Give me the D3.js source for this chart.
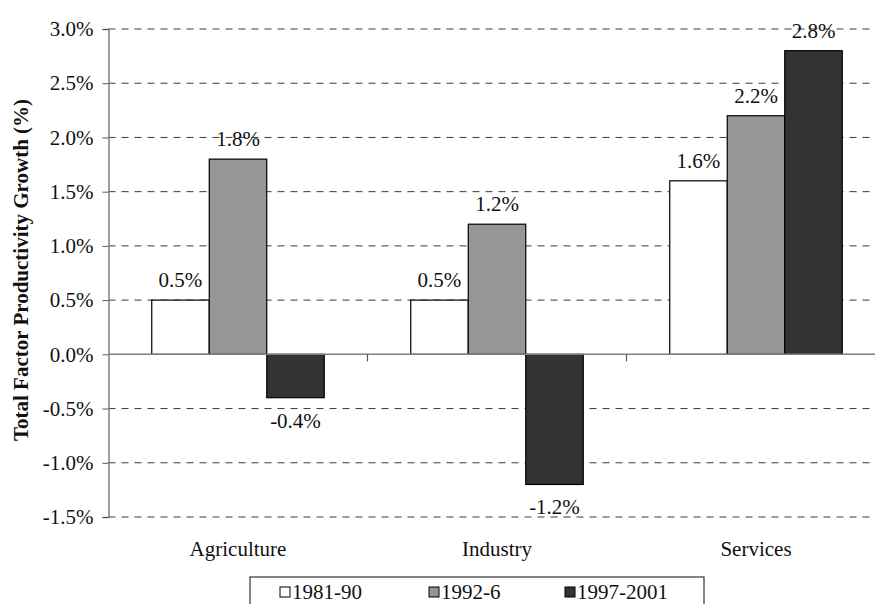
<!DOCTYPE html>
<html>
<head>
<meta charset="utf-8">
<script src="https://cdn.jsdelivr.net/npm/d3@7"></script>
<style>
  html, body { margin: 0; padding: 0; background: #fff; }
  svg { display: block; }
  svg text { font-family: "Liberation Serif", "Times New Roman", "DejaVu Serif", serif; }
</style>
</head>
<body>
<svg id="chart" width="875" height="604"></svg>
<script>
const categories = ["Agriculture", "Industry", "Services"];
const seriesNames = ["1981-90", "1992-6", "1997-2001"];
const values1981 = [0.5, 0.5, 1.6];
const values1992 = [1.8, 1.2, 2.2];
const values1997 = [-0.4, -1.2, 2.8];
const yTicks = [-1.5, -1.0, -0.5, 0.0, 0.5, 1.0, 1.5, 2.0, 2.5, 3.0];
const colors = ["#ffffff", "#969696", "#333333"];

(function () {
const FONT = "Liberation Serif, Times New Roman, serif";
const FS = 21;
const seriesValues = [values1981, values1992, values1997];
const data = categories.map((c, i) => ({
  category: c,
  vals: seriesNames.map((s, j) => ({ series: s, idx: j, value: seriesValues[j][i] }))
}));

const svg = d3.select("#chart");
const pLeft = 108.5, pRight = 885.5, pTop = 29, pBottom = 517;

const x = d3.scaleBand().domain(categories).range([pLeft, pRight]).paddingInner(0).paddingOuter(0);
const y = d3.scaleLinear().domain([-1.5, 3.0]).range([pBottom, pTop]);
const inner = d3.scaleBand().domain(seriesNames)
  .range([0, x.bandwidth()]).paddingOuter(0.752).paddingInner(0);

const fmt = v => v.toFixed(1) + "%";

// Gridlines (dashed)
svg.append("g").selectAll("line").data(yTicks.filter(t => t !== 0)).join("line")
  .attr("x1", pLeft).attr("x2", pRight)
  .attr("y1", d => y(d)).attr("y2", d => y(d))
  .attr("stroke", "#3a3a3a").attr("stroke-width", 1)
  .attr("stroke-dasharray", "7,6");

// Y axis
const yAxis = svg.append("g").attr("transform", `translate(${pLeft},0)`)
  .call(d3.axisLeft(y).tickValues(yTicks).tickFormat(fmt).tickSize(6).tickPadding(9));
yAxis.attr("font-family", FONT).attr("font-size", FS);
yAxis.select(".domain").attr("stroke", "#808080").attr("stroke-width", 1.5);
yAxis.selectAll(".tick line").attr("stroke", "#555").attr("stroke-width", 1);
yAxis.selectAll(".tick text").attr("fill", "#111");

// Bars
const groups = svg.append("g").selectAll("g").data(data).join("g")
  .attr("transform", d => `translate(${x(d.category)},0)`);

groups.selectAll("rect").data(d => d.vals).join("rect")
  .attr("x", d => inner(d.series))
  .attr("width", inner.bandwidth())
  .attr("y", d => y(Math.max(0, d.value)))
  .attr("height", d => Math.abs(y(d.value) - y(0)))
  .attr("fill", d => colors[d.idx])
  .attr("stroke", "#000").attr("stroke-width", 1.2);

// Value labels
groups.selectAll("text").data(d => d.vals).join("text")
  .attr("x", d => inner(d.series) + inner.bandwidth() / 2)
  .attr("y", d => d.value >= 0 ? y(d.value) - 13 : y(d.value) + 30)
  .attr("text-anchor", "middle")
  .attr("font-family", FONT).attr("font-size", FS).attr("fill", "#111")
  .text(d => fmt(d.value));

// Zero line with category ticks
svg.append("line").attr("x1", pLeft).attr("x2", pRight)
  .attr("y1", y(0)).attr("y2", y(0))
  .attr("stroke", "#808080").attr("stroke-width", 1.5);
const xAxis = svg.append("g").attr("transform", `translate(0,${y(0)})`);
xAxis.selectAll("line").data(categories.slice(1)).join("line")
  .attr("x1", d => x(d)).attr("x2", d => x(d))
  .attr("y1", 0).attr("y2", 7)
  .attr("stroke", "#555").attr("stroke-width", 1.2);

// Category labels
svg.append("g").selectAll("text").data(categories).join("text")
  .attr("x", d => x(d) + x.bandwidth() / 2)
  .attr("y", 556)
  .attr("text-anchor", "middle")
  .attr("font-family", FONT).attr("font-size", FS).attr("fill", "#111")
  .text(d => d);

// Y title
svg.append("text")
  .attr("transform", `translate(28,270) rotate(-90)`)
  .attr("text-anchor", "middle")
  .attr("font-family", FONT).attr("font-size", 21).attr("font-weight", "bold").attr("fill", "#111")
  .text("Total Factor Productivity Growth (%)");

// Legend
const legend = svg.append("g").attr("transform", "translate(250,577)");
legend.append("rect").attr("x", 0).attr("y", 0).attr("width", 454).attr("height", 40)
  .attr("fill", "#fff").attr("stroke", "#333").attr("stroke-width", 1.2);
const legendOffsets = [30, 179, 315];
const items = legend.selectAll("g.item").data(seriesNames).join("g")
  .attr("class", "item")
  .attr("transform", (d, i) => `translate(${legendOffsets[i]},0)`);
items.append("rect").attr("x", 0).attr("y", 10).attr("width", 10).attr("height", 10)
  .attr("fill", (d, i) => colors[i]).attr("stroke", "#000").attr("stroke-width", 1);
items.append("text").attr("x", 12).attr("y", 22)
  .attr("font-family", FONT).attr("font-size", FS).attr("fill", "#111").text(d => d);
})();
</script>
</body>
</html>
